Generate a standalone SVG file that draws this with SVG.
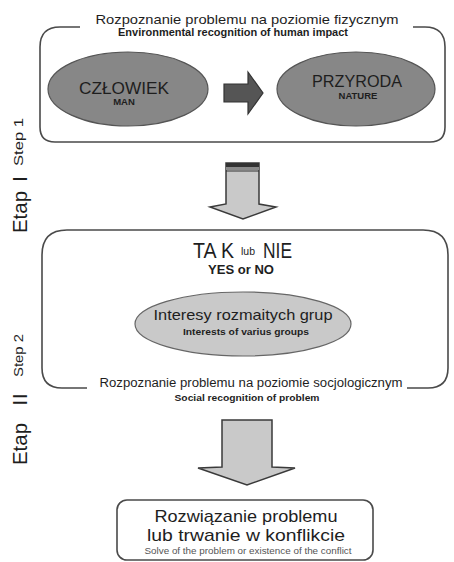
<svg xmlns="http://www.w3.org/2000/svg" width="454" height="562" viewBox="0 0 454 562">
<style>
text{font-family:"Liberation Sans",Arial,sans-serif;fill:#1e1e1e}
.b{font-weight:bold}
.frame{fill:none;stroke:#4a4a4a;stroke-width:1.6}
.ell{fill:#878787;stroke:#555;stroke-width:1.2}
.ell2{fill:#c9c9c9;stroke:#666;stroke-width:1.2}
.big{fill:#c9c9c9;stroke:#3a3a3a;stroke-width:1.5}
.c{text-anchor:middle}
</style>
<rect width="454" height="562" fill="#fff"/>
<g id="labels">
<text transform="translate(27,233) rotate(-90)" font-size="21" textLength="42" lengthAdjust="spacingAndGlyphs">Etap</text>
<text transform="translate(27,182) rotate(-90)" font-size="21">I</text>
<text transform="translate(23,166) rotate(-90)" font-size="13" textLength="48" lengthAdjust="spacingAndGlyphs">Step 1</text>
<text transform="translate(27,465) rotate(-90)" font-size="21" textLength="42" lengthAdjust="spacingAndGlyphs">Etap</text>
<text transform="translate(27,406) rotate(-90)" font-size="21" textLength="13" lengthAdjust="spacingAndGlyphs">II</text>
<text transform="translate(23,377) rotate(-90)" font-size="13" textLength="43" lengthAdjust="spacingAndGlyphs">Step 2</text>
</g>
<g id="step1">
<path class="frame" d="M80,27 H60 Q40,27 40,47 V127 Q40,142 55,142 H430 Q445,142 445,127 V47 Q445,27 425,27 H413"/>
<text class="c" x="247" y="24" font-size="13" textLength="303" lengthAdjust="spacingAndGlyphs">Rozpoznanie problemu na poziomie fizycznym</text>
<text class="c b" x="233" y="36" font-size="10" textLength="230" lengthAdjust="spacingAndGlyphs">Environmental recognition of human impact</text>
</g>
<g id="man">
<ellipse class="ell" cx="128" cy="89" rx="80" ry="37"/>
<text class="c" x="124" y="94" font-size="16" textLength="90" lengthAdjust="spacingAndGlyphs">CZŁOWIEK</text>
<text class="c b" x="124" y="105" font-size="9.5">MAN</text>
</g>
<g id="nature">
<ellipse class="ell" cx="356" cy="89" rx="79" ry="37"/>
<text class="c" x="357" y="87" font-size="16" textLength="90" lengthAdjust="spacingAndGlyphs">PRZYRODA</text>
<text class="c b" x="358" y="99" font-size="9.5">NATURE</text>
</g>
<g id="step2">
<path class="frame" d="M87,388 H62 Q42,388 42,368 V255 Q42,230 67,230 H423 Q448,230 448,255 V368 Q448,388 428,388 H407"/>
<text x="193" y="258" font-size="22" textLength="41" lengthAdjust="spacingAndGlyphs">TA K</text>
<text x="241" y="255" font-size="10" textLength="14" lengthAdjust="spacingAndGlyphs">lub</text>
<text x="263" y="258" font-size="22" textLength="29" lengthAdjust="spacingAndGlyphs">NIE</text>
<text class="c b" x="241" y="274" font-size="12" textLength="66" lengthAdjust="spacingAndGlyphs">YES or NO</text>
<text class="c" x="251" y="387" font-size="12.5" textLength="303" lengthAdjust="spacingAndGlyphs">Rozpoznanie problemu na poziomie socjologicznym</text>
<text class="c b" x="247" y="401" font-size="9.5" textLength="145" lengthAdjust="spacingAndGlyphs">Social recognition of problem</text>
</g>
<g id="groups">
<ellipse class="ell2" cx="243" cy="324" rx="108" ry="32"/>
<text class="c" x="243" y="320" font-size="15" textLength="179" lengthAdjust="spacingAndGlyphs">Interesy rozmaitych grup</text>
<text class="c b" x="246" y="335" font-size="9.5" textLength="126" lengthAdjust="spacingAndGlyphs">Interests of varius groups</text>
</g>
<g id="result">
<rect class="frame" x="117" y="500" width="256" height="60" rx="10"/>
<text class="c" x="246" y="522" font-size="17" textLength="183" lengthAdjust="spacingAndGlyphs">Rozwiązanie problemu</text>
<text class="c" x="246" y="541" font-size="17" textLength="198" lengthAdjust="spacingAndGlyphs">lub trwanie w konflikcie</text>
<text class="c" x="248" y="554" font-size="9" textLength="207" lengthAdjust="spacingAndGlyphs" style="fill:#555">Solve of the problem or existence of the conflict</text>
</g>
<g id="connectors">
<path d="M224,84 H248 V72 L263,93 L248,114 V102 H224 Z" fill="#555" stroke="#333" stroke-width="1.2"/>
<path class="big" d="M226,163 H259 V204 L276,207 L243,219 L210,207 L226,204 Z"/>
<rect x="226" y="163" width="33" height="4" fill="#333"/>
<rect x="226" y="167" width="33" height="3" fill="#8a8a8a"/>
<line x1="226" y1="171" x2="259" y2="171" stroke="#333" stroke-width="1.2"/>
<path class="big" d="M222,420 H272 V467 L295,468 L247,485 L198,468 L222,467 Z"/>
</g>
</svg>
